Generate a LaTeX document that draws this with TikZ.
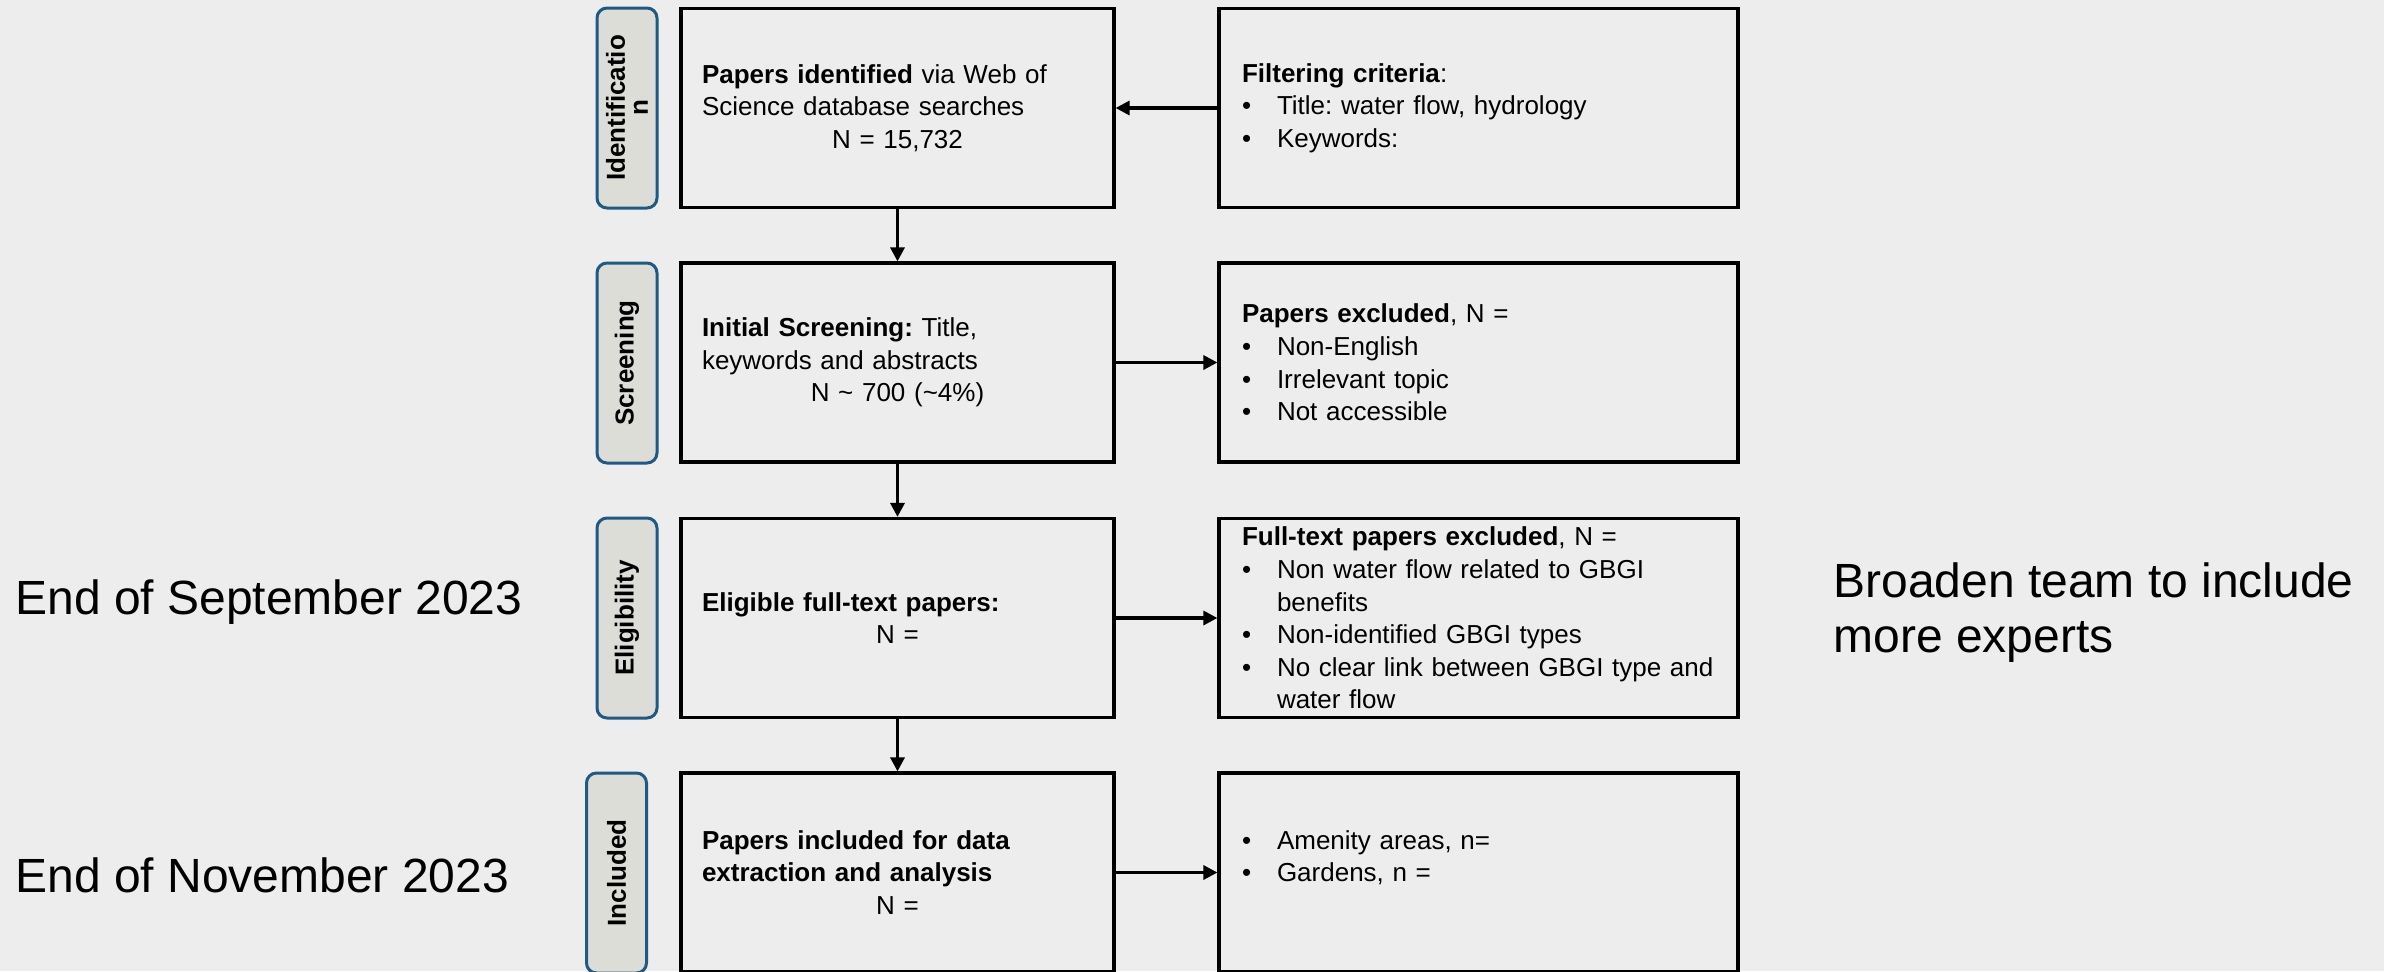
\documentclass[tikz,border=0pt]{standalone}
\usepackage{fontspec}
\setmainfont{Liberation Sans}
\usetikzlibrary{arrows.meta}
\definecolor{bggray}{RGB}{237,237,237}
\definecolor{pillfill}{RGB}{221,221,215}
\definecolor{pillblue}{RGB}{31,90,132}
\newcommand{\blt}{\makebox[17.5pt][l]{\textbullet}}
\newcommand{\hang}{\hspace*{17.5pt}}
\frenchspacing

\begin{document}
\begin{tikzpicture}[x=0.5pt,y=-0.5pt,
    leftbox/.style={draw=black, line width=1.6pt, text width=195.5pt, inner xsep=10.5pt,
        inner ysep=0pt, minimum height=99.5pt, align=left, font=\fontsize{13}{16.3}\selectfont},
    rightbox/.style={draw=black, line width=1.6pt, text width=236.5pt, inner xsep=11.5pt,
        inner ysep=0pt, minimum height=99.5pt, align=left, font=\fontsize{13}{16.3}\selectfont},
    pill/.style={draw=pillblue, fill=pillfill, line width=1.5pt, rounded corners=5pt,
        rotate=90, minimum width=100pt, minimum height=30pt, inner sep=0pt,
        align=center, font=\bfseries\fontsize{13}{11.5}\selectfont},
    arr/.style={-{Triangle[length=7pt,width=7pt]}, line width=1.6pt},
    note/.style={inner sep=0pt, align=left, font=\fontsize{24}{27.5}\selectfont}]

    % Background
    \fill[bggray] (0,0) rectangle (2384,971);
    \useasboundingbox (0,0) rectangle (2384,971);

    % Stage labels
    \node[pill] (lbident) at (627,108) {Identificatio\\n};
    \node[pill] (lbscreen) at (627,363) {Screening};
    \node[pill] (lbelig) at (627,618) {Eligibility};
    \node[pill] (lbincl) at (616.5,873) {Included};

    % Main column
    \node[leftbox] (ident) at (897.5,108) {\textbf{Papers identified} via Web of\\Science database searches\\\makebox[\linewidth]{N = 15,732}};
    \node[leftbox] (screen) at (897.5,362.5) {\textbf{Initial Screening:} Title,\\keywords and abstracts\\\makebox[\linewidth]{N \textasciitilde{} 700 (\textasciitilde4\%)}};
    \node[leftbox] (elig) at (897.5,618) {\textbf{Eligible full-text papers:}\\\makebox[\linewidth]{N =}};
    \node[leftbox] (incl) at (897.5,872.5) {\textbf{Papers included for data}\\\textbf{extraction and analysis}\\\makebox[\linewidth]{N =}};

    % Side column
    \node[rightbox] (idcrit) at (1478.5,108) {\textbf{Filtering criteria}:\\\blt Title: water flow, hydrology\\\blt Keywords:};
    \node[rightbox] (screenex) at (1478.5,362.5) {\textbf{Papers excluded}, N =\\\blt Non-English\\\blt Irrelevant topic\\\blt Not accessible};
    \node[rightbox] (eligex) at (1478.5,618) {\textbf{Full-text papers excluded}, N =\\\blt Non water flow related to GBGI\\\hang benefits\\\blt Non-identified GBGI types\\\blt \mbox{No clear link between GBGI type and}\\\hang water flow};
    \node[rightbox] (inclgrp) at (1478.5,872.5) {\blt Amenity areas, n=\\\blt Gardens, n =\\\mbox{}};

    % Connectors
    \draw[arr] (idcrit.west) -- (ident.east);
    \draw[arr] (ident.south) -- (screen.north);
    \draw[arr] (screen.south) -- (elig.north);
    \draw[arr] (elig.south) -- (incl.north);
    \draw[arr] (screen.east) -- (screenex.west);
    \draw[arr] (elig.east) -- (eligex.west);
    \draw[arr] (incl.east) -- (inclgrp.west);

    % Notes
    \node[note, anchor=base west] (sept) at (15,614) {End of September 2023};
    \node[note, anchor=base west] (nov) at (15,892) {End of November 2023};
    \node[note, anchor=base west] (team) at (1833,652) {Broaden team to include\\more experts};
\end{tikzpicture}
\end{document}
